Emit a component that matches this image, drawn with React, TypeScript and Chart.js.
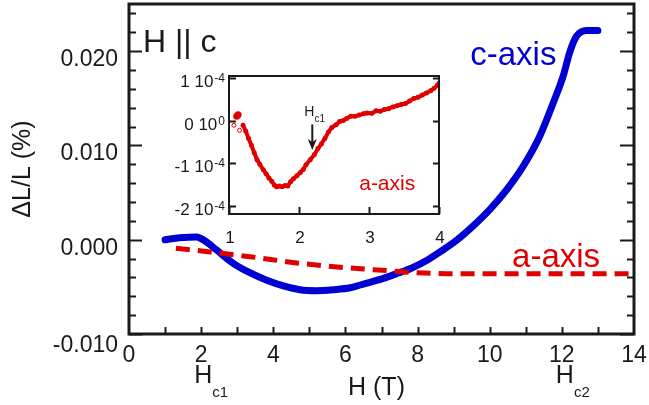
import React, { useEffect, useRef } from "react";
import { Chart, registerables } from "chart.js";

Chart.register(...registerables);

const FONT = '"Liberation Sans", Arial, Helvetica, sans-serif';
const BLUE = "#0000d2";
const RED = "#e00000";
const INK = "#1a1a1a";

// ---- main chart data ----
const cAxisH = [1.0, 1.4, 1.87, 2.1, 2.43, 2.89, 3.35, 3.82, 4.28, 4.74, 5.2, 5.66, 6.13, 6.59, 7.05, 7.42, 7.84, 8.3, 8.62, 9.1, 9.55, 10.0, 10.47, 10.93, 11.39, 11.76, 12.04, 12.22, 12.41, 12.69, 13.0];
const cAxisDL = [0.0, 0.0002, 0.0003, -0.0001, -0.0011, -0.0025, -0.0035, -0.0043, -0.0049, -0.0053, -0.0054, -0.0053, -0.0051, -0.0046, -0.0041, -0.0036, -0.003, -0.0021, -0.0013, 0.0, 0.0015, 0.0032, 0.0053, 0.0078, 0.011, 0.0145, 0.0174, 0.0199, 0.0216, 0.0222, 0.0222];
const aAxisH = [1.3, 2.25, 3.35, 4.74, 6.13, 7.24, 8.0, 9.0, 10.0, 11.0, 12.0, 13.0, 14.0];
const aAxisDL = [-0.0009, -0.0013, -0.0018, -0.0025, -0.003, -0.0033, -0.0035, -0.0036, -0.0036, -0.0036, -0.0036, -0.0036, -0.0036];

const xMajorTicks = [0, 2, 4, 6, 8, 10, 12, 14];
const xTickLabels = ["0", "2", "4", "6", "8", "10", "12", "14"];
const xMinorTicks = [1, 2, 3, 4, 5, 6, 7, 8, 9, 10, 11, 12, 13];
const yMajorTicks = [-0.01, 0.0, 0.01, 0.02];
const yTickLabels = ["-0.010", "0.000", "0.010", "0.020"];
const yMinorTicks = [-0.008, -0.006, -0.004, -0.002, 0.002, 0.004, 0.006, 0.008, 0.012, 0.014, 0.016, 0.018, 0.022, 0.024];

// ---- inset data (units of 1e-4) ----
const insetH = [1.2, 1.24, 1.28, 1.32, 1.36, 1.4, 1.44, 1.49, 1.53, 1.57, 1.61, 1.65, 1.68, 1.72, 1.76, 1.8, 1.84, 1.88, 1.92, 1.97, 2.02, 2.06, 2.1, 2.16, 2.22, 2.27, 2.32, 2.37, 2.42, 2.47, 2.53, 2.58, 2.63, 2.68, 2.74, 2.8, 2.86, 2.92, 2.97, 3.04, 3.1, 3.16, 3.22, 3.28, 3.34, 3.4, 3.46, 3.52, 3.58, 3.64, 3.7, 3.76, 3.82, 3.88, 3.93, 3.98, 4.0];
const insetDL = [-0.11, -0.25, -0.42, -0.58, -0.76, -0.92, -1.03, -1.16, -1.25, -1.35, -1.43, -1.52, -1.56, -1.54, -1.56, -1.53, -1.54, -1.44, -1.37, -1.3, -1.22, -1.15, -1.04, -0.92, -0.8, -0.66, -0.55, -0.42, -0.27, -0.16, -0.1, -0.02, 0.0, 0.05, 0.1, 0.1, 0.13, 0.16, 0.18, 0.17, 0.23, 0.22, 0.26, 0.28, 0.32, 0.35, 0.38, 0.4, 0.46, 0.52, 0.55, 0.6, 0.65, 0.7, 0.76, 0.84, 0.88];
const insetOpenH = [1.07, 1.15];
const insetOpenDL = [-0.11, -0.23];
const insetBlobH = [1.11, 1.13];
const insetBlobDL = [0.1, 0.14];

const insetXTicks = [1, 2, 3, 4];
const insetXLabels = ["1", "2", "3", "4"];
const insetYTicks = [1, 0, -1, -2];
const insetYMant = ["1 10", "0 10", "-1 10", "-2 10"];
const insetYExp = ["-4", "0", "-4", "-4"];

function pts(xs: number[], ys: number[]) {
  return xs.map((x, i) => ({ x, y: ys[i] }));
}

const mainDecor = {
  id: "mainDecor",
  afterDatasetsDraw(chart: any) {
    const { ctx, chartArea: a, scales } = chart;
    const x = scales.x;
    const y = scales.y;
    ctx.save();
    ctx.strokeStyle = INK;
    ctx.fillStyle = INK;
    ctx.lineWidth = 2;
    ctx.beginPath();
    yMajorTicks.forEach((v) => {
      const py = Math.round(y.getPixelForValue(v)) + 0.5;
      ctx.moveTo(a.left, py);
      ctx.lineTo(a.left + 13, py);
      ctx.moveTo(a.right, py);
      ctx.lineTo(a.right - 14, py);
    });
    yMinorTicks.forEach((v) => {
      const py = Math.round(y.getPixelForValue(v)) + 0.5;
      ctx.moveTo(a.left, py);
      ctx.lineTo(a.left + 7, py);
      ctx.moveTo(a.right, py);
      ctx.lineTo(a.right - 7, py);
    });
    xMinorTicks.forEach((v) => {
      const px = Math.round(x.getPixelForValue(v)) + 0.5;
      ctx.moveTo(px, a.bottom);
      ctx.lineTo(px, a.bottom - 7);
    });
    ctx.stroke();
    ctx.lineWidth = 3;
    ctx.strokeRect(a.left, a.top, a.right - a.left, a.bottom - a.top);

    // tick labels
    ctx.font = `23px ${FONT}`;
    ctx.textAlign = "right";
    ctx.textBaseline = "alphabetic";
    yMajorTicks.forEach((v, i) => {
      const py = y.getPixelForValue(v);
      ctx.fillText(yTickLabels[i], a.left - 11, py + (i === 0 ? 18 : 15));
    });
    ctx.textAlign = "center";
    xMajorTicks.forEach((v, i) => {
      const px = x.getPixelForValue(v);
      ctx.fillText(xTickLabels[i], px, a.bottom + 28);
    });

    // axis titles
    ctx.font = `25px ${FONT}`;
    ctx.fillText("H (T)", (a.left + a.right) / 2 - 5, a.bottom + 61);
    ctx.save();
    ctx.translate(23, 169);
    ctx.rotate(-Math.PI / 2);
    ctx.textBaseline = "middle";
    ctx.fillText("\u0394L/L (%)", 0, 0);
    ctx.restore();

    // Hc1 / Hc2
    const drawSub = (main: string, sub: string, left: number) => {
      ctx.textAlign = "left";
      ctx.font = `25px ${FONT}`;
      ctx.fillText(main, left, a.bottom + 49);
      const w = ctx.measureText(main).width;
      ctx.font = `15px ${FONT}`;
      ctx.fillText(sub, left + w, a.bottom + 63);
    };
    drawSub("H", "c1", x.getPixelForValue(2) - 7);
    drawSub("H", "c2", x.getPixelForValue(12) - 6);

    // text annotations
    ctx.textAlign = "left";
    ctx.font = `32px ${FONT}`;
    ctx.fillText("H || c", a.left + 14, a.top + 48);
    ctx.font = `33px ${FONT}`;
    ctx.fillStyle = BLUE;
    ctx.fillText("c-axis", x.getPixelForValue(9.46), a.top + 61);
    ctx.fillStyle = RED;
    ctx.fillText("a-axis", x.getPixelForValue(10.62), a.top + 263);
    ctx.restore();
  },
};

const insetDecor = {
  id: "insetDecor",
  afterDatasetsDraw(chart: any) {
    const { ctx, chartArea: a, scales } = chart;
    const x = scales.x;
    const y = scales.y;
    ctx.save();
    ctx.strokeStyle = INK;
    ctx.fillStyle = INK;
    ctx.lineWidth = 2;
    ctx.beginPath();
    insetYTicks.forEach((v) => {
      const py = Math.round(y.getPixelForValue(v)) + 0.5;
      ctx.moveTo(a.left, py);
      ctx.lineTo(a.left + 7, py);
      ctx.moveTo(a.right, py);
      ctx.lineTo(a.right - 6, py);
    });
    insetXTicks.forEach((v) => {
      const px = Math.round(x.getPixelForValue(v)) + 0.5;
      ctx.moveTo(px, a.bottom);
      ctx.lineTo(px, a.bottom - 7);
    });
    ctx.stroke();
    ctx.lineWidth = 2;
    ctx.strokeRect(a.left, a.top, a.right - a.left, a.bottom - a.top);

    // y tick labels with exponent
    ctx.textBaseline = "alphabetic";
    insetYTicks.forEach((v, i) => {
      const py = y.getPixelForValue(v) + 9;
      const right = a.left - 4;
      ctx.textAlign = "right";
      ctx.font = `12px ${FONT}`;
      ctx.fillText(insetYExp[i], right, py - 5);
      const ew = ctx.measureText(insetYExp[i]).width;
      ctx.font = `17px ${FONT}`;
      ctx.fillText(insetYMant[i], right - ew - 1, py);
    });
    ctx.textAlign = "center";
    ctx.font = `17px ${FONT}`;
    insetXTicks.forEach((v, i) => {
      ctx.fillText(insetXLabels[i], x.getPixelForValue(v) + 1, a.bottom + 29);
    });

    // Hc1 arrow
    const ax = x.getPixelForValue(2.19);
    const y0 = y.getPixelForValue(-0.09);
    const y1 = y.getPixelForValue(-0.69);
    ctx.lineWidth = 2;
    ctx.beginPath();
    ctx.moveTo(ax, y0);
    ctx.lineTo(ax, y1 - 8);
    ctx.stroke();
    ctx.beginPath();
    ctx.moveTo(ax, y1);
    ctx.lineTo(ax - 4.5, y1 - 11);
    ctx.lineTo(ax, y1 - 8);
    ctx.lineTo(ax + 4.5, y1 - 11);
    ctx.closePath();
    ctx.fill();
    ctx.textAlign = "left";
    ctx.font = `14px ${FONT}`;
    const hx = ax - 8;
    ctx.fillText("H", hx, y0 - 8);
    const hw = ctx.measureText("H").width;
    ctx.font = `10px ${FONT}`;
    ctx.fillText("c1", hx + hw, y0 - 2);

    ctx.fillStyle = RED;
    ctx.font = `21px ${FONT}`;
    ctx.fillText("a-axis", x.getPixelForValue(2.86), y.getPixelForValue(-1.63));
    ctx.restore();
  },
};

export default function App() {
  const mainRef = useRef<HTMLCanvasElement>(null);
  const insetRef = useRef<HTMLCanvasElement>(null);

  useEffect(() => {
    const main = new Chart(mainRef.current as HTMLCanvasElement, {
      type: "line",
      data: {
        datasets: [
          {
            data: pts(aAxisH, aAxisDL),
            borderColor: RED,
            borderWidth: 5,
            borderDash: [14, 8],
            pointRadius: 0,
            cubicInterpolationMode: "monotone",
            fill: false,
          },
          {
            data: pts(cAxisH, cAxisDL),
            borderColor: BLUE,
            borderWidth: 7,
            pointRadius: 0,
            borderCapStyle: "round",
            borderJoinStyle: "round",
            cubicInterpolationMode: "monotone",
            fill: false,
          },
        ],
      },
      options: {
        responsive: false,
        animation: false,
        devicePixelRatio: 1,
        events: [],
        layout: { padding: { left: 129, right: 15, top: 4, bottom: 71 } },
        plugins: { legend: { display: false }, tooltip: { enabled: false } },
        scales: {
          x: { type: "linear", display: false, min: 0, max: 14 },
          y: { type: "linear", display: false, min: -0.01, max: 0.025 },
        },
      },
      plugins: [mainDecor],
    } as any);

    const inset = new Chart(insetRef.current as HTMLCanvasElement, {
      type: "line",
      data: {
        datasets: [
          {
            data: pts(insetH, insetDL),
            borderColor: RED,
            backgroundColor: RED,
            borderWidth: 4,
            pointRadius: 2.5,
            pointBorderWidth: 0,
            tension: 0,
            fill: false,
          },
          {
            data: pts(insetBlobH, insetBlobDL),
            borderColor: RED,
            backgroundColor: RED,
            showLine: false,
            pointRadius: 3.5,
            pointBorderWidth: 0,
          },
          {
            data: pts(insetOpenH, insetOpenDL),
            borderColor: RED,
            backgroundColor: "#ffffff",
            showLine: false,
            pointRadius: 2,
            pointBorderWidth: 1,
          },
        ],
      },
      options: {
        responsive: false,
        animation: false,
        devicePixelRatio: 1,
        events: [],
        layout: { padding: { left: 229, right: 210, top: 76, bottom: 191 } },
        plugins: { legend: { display: false }, tooltip: { enabled: false } },
        scales: {
          x: { type: "linear", display: false, min: 1, max: 4 },
          y: { type: "linear", display: false, min: -2.2, max: 1.05 },
        },
      },
      plugins: [insetDecor],
    } as any);

    return () => {
      main.destroy();
      inset.destroy();
    };
  }, []);

  const canvasStyle: React.CSSProperties = { position: "absolute", left: 0, top: 0, width: 649, height: 405 };
  return (
    <div style={{ position: "absolute", left: 0, top: 0, width: 649, height: 405, background: "#ffffff" }}>
      <canvas ref={mainRef} width={649} height={405} style={canvasStyle} />
      <canvas ref={insetRef} width={649} height={405} style={canvasStyle} />
    </div>
  );
}
